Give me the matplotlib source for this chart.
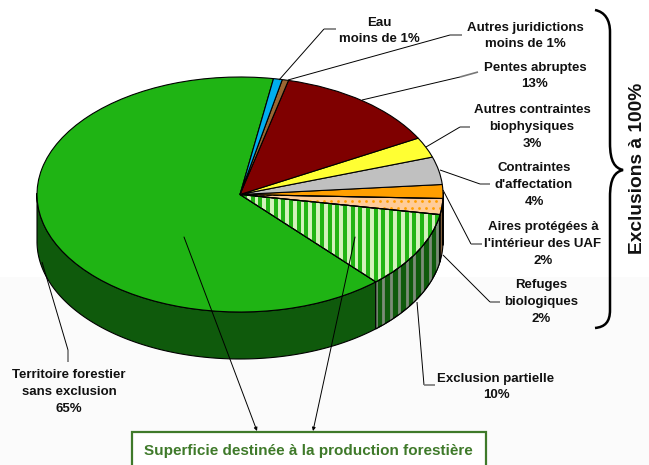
import matplotlib
matplotlib.use("Agg")
import matplotlib.pyplot as plt
from matplotlib.patches import Wedge, Rectangle, PathPatch, Polygon
from matplotlib.path import Path
import numpy as np

plt.rcParams['font.family'] = ['Liberation Sans', 'DejaVu Sans']

# counterclockwise from the top, forest first
values = [64.3, 10.6, 2.2, 1.9, 3.8, 2.8, 13.2, 0.5, 0.7]
top_colors = ['#1fb414', '#d4f2bc', '#ffcc99', '#ff9f00', '#c0c0c0', '#ffff33', '#7f0000', '#996633', '#00aeef']
wall_colors = ['#0f5a0c', '#0f5a0c', '#80603c', '#80500a', '#606060', '#808020', '#400000', '#4c3319', '#005878']
labels = [
    "Eau\nmoins de 1%",
    "Autres juridictions\nmoins de 1%",
    "Pentes abruptes\n13%",
    "Autres contraintes\nbiophysiques\n3%",
    "Contraintes\nd'affectation\n4%",
    "Aires protégées à\nl'intérieur des UAF\n2%",
    "Refuges\nbiologiques\n2%",
    "Exclusion partielle\n10%",
    "Territoire forestier\nsans exclusion\n65%",
]
label_x = [379, 525, 535, 532, 534, 543, 541, 496, 69]
label_y = [31, 36, 76, 127, 185, 244, 302, 387, 392]

# leader lines: black part then short grey end
leaders = [
    ([279, 324], [80, 29], [336, 29]),
    ([288, 450], [80, 35], [462, 35]),
    ([362, 460], [100, 77], [478, 72]),
    ([426, 460], [147, 127], [470, 127]),
    ([440, 480], [170, 184], [490, 184]),
    ([443, 471], [190, 244], [482, 244]),
    ([443, 490], [255, 302], [500, 302]),
    ([417, 424], [302, 385], [435, 385]),
    ([42, 68], [262, 350], [68, 362]),
]

cx, cy, rx, ry, depth = 240.0, 194.5, 203.0, 117.5, 47.0
W, H = 649, 465
start = 80.5

fig = plt.figure(figsize=(W / 100, H / 100), dpi=100, facecolor='white')
pax = fig.add_axes([0, 0, 1, 1])
wedges, _ = pax.pie(values, colors=top_colors, startangle=start,
                    wedgeprops=dict(edgecolor='black', linewidth=0.8, zorder=3))
pax.set_aspect('auto')
pax.set_xlim(-cx / rx, (W - cx) / rx)
pax.set_ylim((cy - H) / ry, cy / ry)
pax.axis('off')
pax.add_patch(Rectangle((-cx / rx, (cy - H) / ry), W / rx, (H - 277) / ry, fc='#fbfbfb', ec='none', zorder=0))

# side wall, lower half only
d = depth / ry
edges = start + np.concatenate([[0], np.cumsum(values)]) * 3.6
for i in range(len(values)):
    t = np.radians(np.linspace(edges[i], edges[i + 1], 200))
    t = t[np.sin(t) <= 0.02]
    if len(t) < 2:
        continue
    xs = np.concatenate([np.cos(t), np.cos(t[::-1])])
    ys = np.concatenate([np.sin(t), np.sin(t[::-1]) - d])
    wall = Polygon(np.column_stack([xs, ys]), fc=wall_colors[i], ec='black', lw=0.8, zorder=2)
    pax.add_patch(wall)
    if i == 1:
        st = pax.vlines(np.arange(-1, 1, 7.7 / rx), -2, 1, color='#7c8c78', lw=2.0, zorder=2.1)
        st.set_clip_path(wall)
        pax.add_patch(Polygon(wall.get_xy(), fill=False, ec='black', lw=0.8, zorder=2.2))

# stripes on top of the partial exclusion slice
w = wedges[1]
st = pax.vlines(np.arange(-1, 1, 7.7 / rx), -2, 1, color='#22b414', lw=2.9, zorder=3.1)
st.set_clip_path(w)
pax.add_patch(Wedge(w.center, w.r, w.theta1, w.theta2, fill=False, ec='black', lw=0.8, zorder=3.2))

# dots on the peach slice
w = wedges[2]
gx, gy = np.meshgrid(np.arange(0.0, 1.05, 7.0 / rx), np.arange(-0.35, 0.05, 7.0 / ry))
gx[::2] += 3.5 / rx
dots = pax.scatter(gx.ravel(), gy.ravel(), s=4, color='#ff9f00', linewidths=0, zorder=3.1)
dots.set_clip_path(w)
pax.add_patch(Wedge(w.center, w.r, w.theta1, w.theta2, fill=False, ec='black', lw=0.8, zorder=3.2))

# overlay in pixel coordinates
ax = fig.add_axes([0, 0, 1, 1], zorder=5)
ax.set_xlim(0, W)
ax.set_ylim(H, 0)
ax.axis('off')

for xs, ys, end in leaders:
    ax.plot(xs, ys, color='black', lw=0.7, solid_capstyle='butt')
    ax.plot([xs[1], end[0]], [ys[1], end[1]], color='#777777', lw=1.2, solid_capstyle='butt')

for txt, x, y in zip(labels, label_x, label_y):
    ax.text(x, y, txt, ha='center', va='center', fontsize=9.5, fontweight='bold', linespacing=1.54, color='#111111')

ax.annotate('', xy=(257, 431), xytext=(184, 237),
            arrowprops=dict(arrowstyle='-|>', mutation_scale=5, lw=0.7, color='black', shrinkA=0, shrinkB=0))
ax.annotate('', xy=(313, 431), xytext=(355, 237),
            arrowprops=dict(arrowstyle='-|>', mutation_scale=5, lw=0.7, color='black', shrinkA=0, shrinkB=0))

ax.add_patch(Rectangle((131.5, 431.5), 354, 50, fc='white', ec='#3f7a2a', lw=1.6, zorder=1))
ax.text(308, 451, "Superficie destinée à la production forestière", ha='center', va='center',
        fontsize=11, fontweight='bold', color='#3f7a2a', zorder=6)

# curly bracket
verts = [(595, 10), (605, 12), (610, 20), (610, 32), (610, 143), (610, 162), (615, 168), (623, 170),
         (615, 172), (610, 178), (610, 197), (610, 310), (610, 322), (605, 327), (595, 328)]
codes = [Path.MOVETO, Path.CURVE4, Path.CURVE4, Path.CURVE4, Path.LINETO, Path.CURVE4, Path.CURVE4, Path.CURVE4,
         Path.CURVE4, Path.CURVE4, Path.CURVE4, Path.LINETO, Path.CURVE4, Path.CURVE4, Path.CURVE4]
ax.add_patch(PathPatch(Path(verts, codes), fill=False, ec='black', lw=1.8))

ax.text(638, 168, "Exclusions à 100%", rotation=90, ha='center', va='center',
        fontsize=13.8, fontweight='bold', color='#111111')

fig.savefig('out.png', dpi=100)
